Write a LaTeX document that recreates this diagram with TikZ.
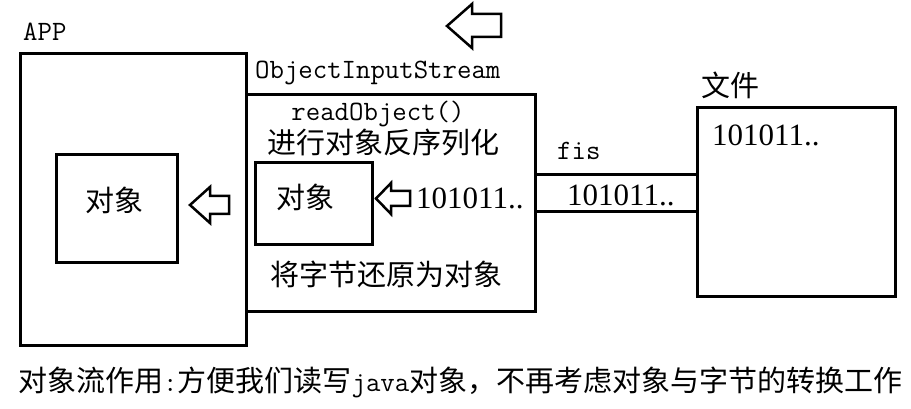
\documentclass[tikz,border=0pt]{standalone}
\usepackage{fontspec}
\setmainfont{Liberation Serif}
\newfontfamily\cjk{Noto Sans CJK SC}
\begin{document}
\begin{tikzpicture}[x=1pt,y=-1pt,
  box/.style={draw, line width=3pt, rectangle, inner sep=0pt, anchor=north west},
  hollow/.style={draw, line width=2.5pt, line join=miter, fill=white},
  pipe/.style={line width=3pt},
  cjkt/.style={font=\cjk\fontsize{29}{30}\selectfont, inner sep=0pt},
  mono/.style={font=\ttfamily\fontsize{28}{30}\selectfont, inner sep=0pt},
  bits/.style={font=\rmfamily\fontsize{31}{32}\selectfont, inner sep=0pt}]
\useasboundingbox (0,0) rectangle (911,409);

% boxes
\node[box, minimum width=226pt, minimum height=292pt] (app) at (19,52) {};
\node[box, minimum width=289pt, minimum height=217pt] (ois) at (245,93) {};
\node[box, minimum width=121pt, minimum height=108pt] (lobj) at (55,153) {};
\node[box, minimum width=117pt, minimum height=82pt] (iobj) at (254,161) {};
\node[box, minimum width=198pt, minimum height=189pt] (file) at (696,106) {};

% pipe (fis)
\coordinate (ptop) at (0,175);
\coordinate (pbot) at (0,212);
\draw[pipe] (ois.east |- ptop) -- (file.west |- ptop);
\draw[pipe] (ois.east |- pbot) -- (file.west |- pbot);

% hollow arrows
\draw[hollow] (447,26) -- (472,4) -- (472,14) -- (501,14) -- (501,37) -- (472,37) -- (472,48) -- cycle;
\draw[hollow] (190,205) -- (210,187) -- (210,196) -- (229,196) -- (229,214) -- (210,214) -- (210,223) -- cycle;
\draw[hollow] (376,198.5) -- (391,183) -- (391,191) -- (410,191) -- (410,206) -- (391,206) -- (391,214) -- cycle;

% labels
\node[mono, anchor=base west] (applbl) at (23,41) {APP};
\node[mono, anchor=base west] (oislbl) at (255,79) {ObjectInputStream};
\node[mono, anchor=base] (readlbl) at (378,121) {readObject()};
\node[cjkt] (deser) at (383,142) {进行对象反序列化};
\node[cjkt] (iobjtxt) at (305,197) {对象};
\node[bits, anchor=base west] (oisbits) at (416,208) {101011..};
\node[cjkt] (restore) at (386,274) {将字节还原为对象};
\node[cjkt] (lobjtxt) at (114,200) {对象};
\node[mono, anchor=base west] (fislbl) at (557,160) {fis};
\node[bits, anchor=base west] (pipebits) at (567,205) {101011..};
\node[cjkt] (filelbl) at (730,85) {文件};
\node[bits, anchor=base west] (filebits) at (712,146) {101011..};

% caption
\node[anchor=west, inner sep=0pt, font=\fontsize{29}{30}\selectfont] (caption) at (18,382)
  {{\cjk 对象流作用}{\ttfamily\fontsize{28}{30}\selectfont :}{\cjk 方便我们读写}{\ttfamily\fontsize{28}{30}\selectfont java}{\cjk 对象，不再考虑对象与字节的转换工作}};
\end{tikzpicture}
\end{document}
